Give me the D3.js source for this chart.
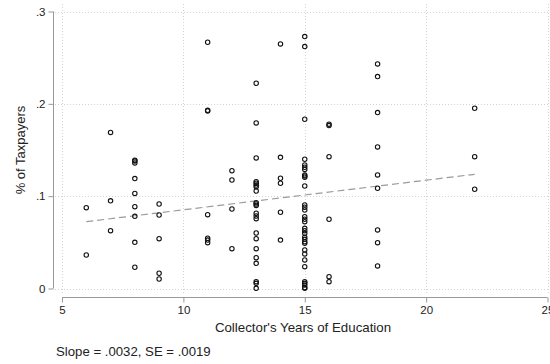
<!DOCTYPE html>
<html>
<head>
<meta charset="utf-8">
<script src="https://cdn.jsdelivr.net/npm/d3@7"></script>
<style>
  body { margin: 0; background: #fff; }
  svg { font-family: "Liberation Sans", Arial, sans-serif; }
</style>
</head>
<body>
<svg width="550" height="364"></svg>
<script>
// collector's years of education, one entry per point
var educ = [
  6, 6,
  7, 7, 7,
  8, 8, 8, 8, 8, 8, 8, 8, 8,
  9, 9, 9, 9, 9,
  11, 11, 11, 11, 11, 11, 11,
  12, 12, 12, 12,
  13, 13, 13, 13, 13, 13, 13, 13, 13, 13, 13, 13, 13, 13, 13, 13, 13, 13, 13, 13, 13, 13,
  14, 14, 14, 14, 14, 14,
  15, 15, 15, 15, 15, 15, 15, 15, 15, 15, 15, 15, 15, 15, 15, 15, 15, 15, 15, 15, 15, 15, 15, 15, 15, 15, 15, 15, 15, 15, 15, 15, 15,
  16, 16, 16, 16, 16, 16,
  18, 18, 18, 18, 18, 18, 18, 18, 18,
  22, 22, 22
];
// share of taxpayers, same order
var share = [
  0.0875, 0.0363,
  0.169, 0.095, 0.0626,
  0.139, 0.138, 0.136, 0.119, 0.103, 0.0886, 0.0782, 0.050, 0.023,
  0.0915, 0.0796, 0.054, 0.0165, 0.0103,
  0.2667, 0.193, 0.1923, 0.080, 0.0544, 0.0525, 0.0496,
  0.1276, 0.1175, 0.0861, 0.0431,
  0.2223, 0.1793, 0.1414, 0.1157, 0.114, 0.1121, 0.1103, 0.1056, 0.093, 0.0915, 0.090, 0.0815, 0.0785, 0.0756, 0.0601, 0.054, 0.0431, 0.0334, 0.0273, 0.0074, 0.0056, 0.0002,
  0.2649, 0.1421, 0.1194, 0.114, 0.0826, 0.0525,
  0.2728, 0.262, 0.1833, 0.140, 0.1338, 0.1313, 0.129, 0.123, 0.1219, 0.1205, 0.111, 0.0905, 0.088, 0.085, 0.0778, 0.075, 0.0724, 0.0652, 0.0626, 0.0598, 0.0555, 0.0533, 0.0507, 0.049, 0.0417, 0.0374, 0.0309, 0.0236, 0.0074, 0.0056, 0.0038, 0.0002, 0.001,
  0.178, 0.1764, 0.1428, 0.075, 0.0128, 0.0074,
  0.2432, 0.2295, 0.1905, 0.1533, 0.123, 0.1086, 0.0634, 0.0496, 0.0244,
  0.1952, 0.1428, 0.1075
];
var fitX = [6, 22];
var fitY = [0.0724, 0.1237];
var xTicks = [5, 10, 15, 20, 25];
var yTicks = [0, 0.1, 0.2, 0.3];
var yTickLabels = ["0", ".1", ".2", ".3"];

var points = educ.map(function(e, i) { return { x: e, y: share[i] }; });

var svg = d3.select("svg");

var x = d3.scaleLinear().domain([5, 25]).range([62, 547.5]);
var y = d3.scaleLinear().domain([0, 0.3]).range([288.5, 11.5]);

// grid
var grid = svg.append("g").attr("stroke", "#d4d4d4").attr("stroke-width", 1)
    .attr("stroke-dasharray", "1,2");
grid.selectAll(".gx").data(xTicks).enter().append("line")
    .attr("x1", function(d) { return Math.round(x(d)) + 0.5; })
    .attr("x2", function(d) { return Math.round(x(d)) + 0.5; })
    .attr("y1", 4).attr("y2", 294);
grid.selectAll(".gy").data(yTicks).enter().append("line")
    .attr("x1", 55).attr("x2", 550)
    .attr("y1", function(d) { return Math.round(y(d)) + 0.5; })
    .attr("y2", function(d) { return Math.round(y(d)) + 0.5; });

// axes
var yAxis = d3.axisLeft(y).tickValues(yTicks).tickSize(5).tickPadding(3)
    .tickFormat(function(d, i) { return yTickLabels[i]; });
var gy = svg.append("g").attr("transform", "translate(53.5,0)").call(yAxis);
gy.select(".domain").attr("d", "M0," + y(0.3) + "V" + y(0));

var xAxis = d3.axisBottom(x).tickValues(xTicks).tickSize(5).tickPadding(3)
    .tickFormat(d3.format("d"));
var gx = svg.append("g").attr("transform", "translate(0,297.5)").call(xAxis);
gx.select(".domain").attr("d", "M" + x(5) + ",0H" + x(25));

svg.selectAll(".domain, .tick line").attr("stroke", "#999");
svg.selectAll(".tick text").attr("fill", "#222").style("font-size", "11.5px")
    .style("font-family", "Liberation Sans, Arial, sans-serif");

// fit line
svg.append("line")
    .attr("x1", x(fitX[0])).attr("y1", y(fitY[0]))
    .attr("x2", x(fitX[1])).attr("y2", y(fitY[1]))
    .attr("stroke", "#9a9a9a").attr("stroke-width", 1.2)
    .attr("stroke-dasharray", "7,4");

// points
svg.selectAll(".pt").data(points).enter().append("circle")
    .attr("class", "pt")
    .attr("cx", function(d) { return x(d.x); })
    .attr("cy", function(d) { return y(d.y); })
    .attr("r", 2.2)
    .attr("fill", "none")
    .attr("stroke", "#111")
    .attr("stroke-width", 1.1);

// titles
svg.append("text")
    .attr("transform", "translate(25,150) rotate(-90)")
    .attr("text-anchor", "middle")
    .style("font-size", "13px").attr("fill", "#222")
    .text("% of Taxpayers");

svg.append("text")
    .attr("x", 303).attr("y", 332)
    .attr("text-anchor", "middle")
    .style("font-size", "13.3px").attr("fill", "#222")
    .text("Collector's Years of Education");

svg.append("text")
    .attr("x", 56).attr("y", 355.5)
    .style("font-size", "13.2px").attr("fill", "#222")
    .text("Slope = .0032, SE = .0019");
</script>
</body>
</html>
